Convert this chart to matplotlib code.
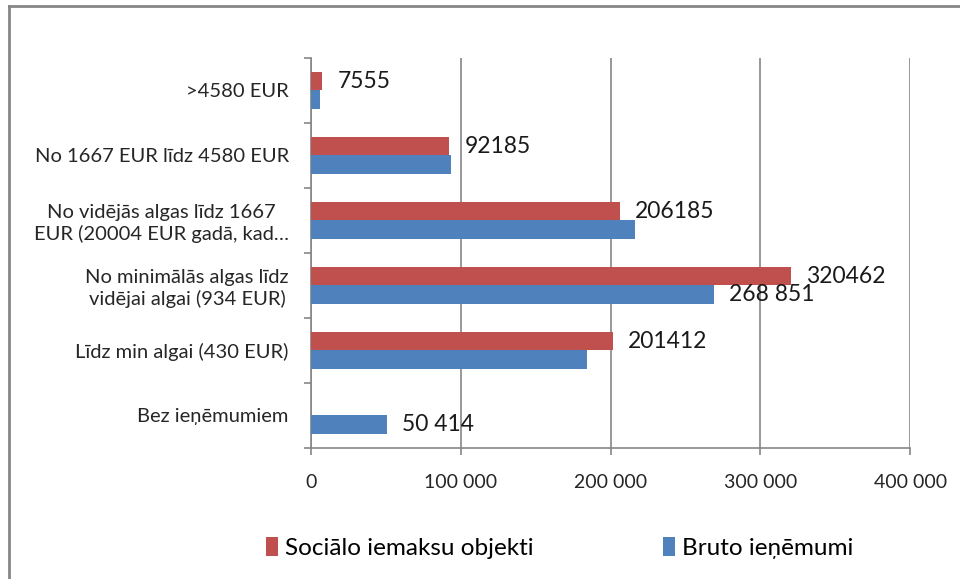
import matplotlib.pyplot as plt
from matplotlib.ticker import FuncFormatter
import numpy as np

plt.rcParams['font.family'] = ['Lato', 'DejaVu Sans']

categories = [
    'Bez ieņēmumiem',
    'Līdz min algai (430 EUR)',
    'No minimālās algas līdz\nvidējai algai (934 EUR)',
    'No vidējās algas līdz 1667\nEUR (20004 EUR gadā, kad…',
    'No 1667 EUR līdz 4580 EUR',
    '>4580 EUR',
]
social = [0, 201412, 320462, 206185, 92185, 7555]
gross = [50414, 184000, 268851, 216500, 93700, 6300]
# which bars carry a value label, and how it is written
social_labels = ['', '201412', '320462', '206185', '92185', '7555']
gross_labels = ['50 414', '', '268 851', '', '', '']

red = '#C0504D'
blue = '#4F81BD'
axis_grey = '#868686'

fig = plt.figure(figsize=(9.6, 5.79), dpi=100)
ax = fig.add_axes([0.324, 0.2263, 0.624, 0.6736])

y = np.arange(len(categories))
h = 0.29
ax.barh(y + h / 2, social, height=h, color=red, label='Sociālo iemaksu objekti', zorder=3)
ax.barh(y - h / 2, gross, height=h, color=blue, label='Bruto ieņēmumi', zorder=3)

for yi, v, t in zip(y, social, social_labels):
    if t:
        ax.annotate(t, (v, yi + h / 2), xytext=(11, 0), textcoords='offset points',
                    va='center', ha='left', fontsize=16.5, color='#1a1a1a', zorder=4)
for yi, v, t in zip(y, gross, gross_labels):
    if t:
        ax.annotate(t, (v, yi - h / 2), xytext=(11, 0), textcoords='offset points',
                    va='center', ha='left', fontsize=16.5, color='#1a1a1a', zorder=4)

ax.set_xlim(0, 400000)
ax.set_ylim(-0.5, len(categories) - 0.5)
ax.set_xticks([0, 100000, 200000, 300000, 400000])
ax.xaxis.set_major_formatter(FuncFormatter(lambda v, p: f'{int(v):,}'.replace(',', ' ')))
ax.grid(axis='x', color=axis_grey, linewidth=1.2, zorder=0)

ax.set_yticks(y)
ax.set_yticklabels(categories)
ax.set_yticks(np.arange(-0.5, len(categories)), minor=True)
ax.tick_params(axis='y', which='major', length=0, pad=16, labelsize=14.5, labelcolor='#262626')
ax.tick_params(axis='y', which='minor', length=5, color=axis_grey, width=1.2)
ax.tick_params(axis='x', length=5, color=axis_grey, width=1.2, pad=14, labelsize=14,
               labelcolor='#262626')
for lab in ax.get_yticklabels():
    lab.set_multialignment('center')

for s in ['top', 'right']:
    ax.spines[s].set_visible(False)
for s in ['left', 'bottom']:
    ax.spines[s].set_color(axis_grey)
    ax.spines[s].set_linewidth(1.2)

handles, labels = ax.get_legend_handles_labels()
fig.legend(handles, labels, loc='center', bbox_to_anchor=(0.583, 0.053), ncol=2,
           frameon=False, fontsize=17.5, handlelength=0.5, handleheight=0.8,
           handletextpad=0.3, columnspacing=5.3)

# outer chart frame
fig.add_artist(plt.Line2D([0.0094, 0.0094], [0, 0.99], transform=fig.transFigure,
                          color=axis_grey, linewidth=2))
fig.add_artist(plt.Line2D([0.0094, 1], [0.99, 0.99], transform=fig.transFigure,
                          color=axis_grey, linewidth=2))

fig.savefig('out.png', dpi=100)
